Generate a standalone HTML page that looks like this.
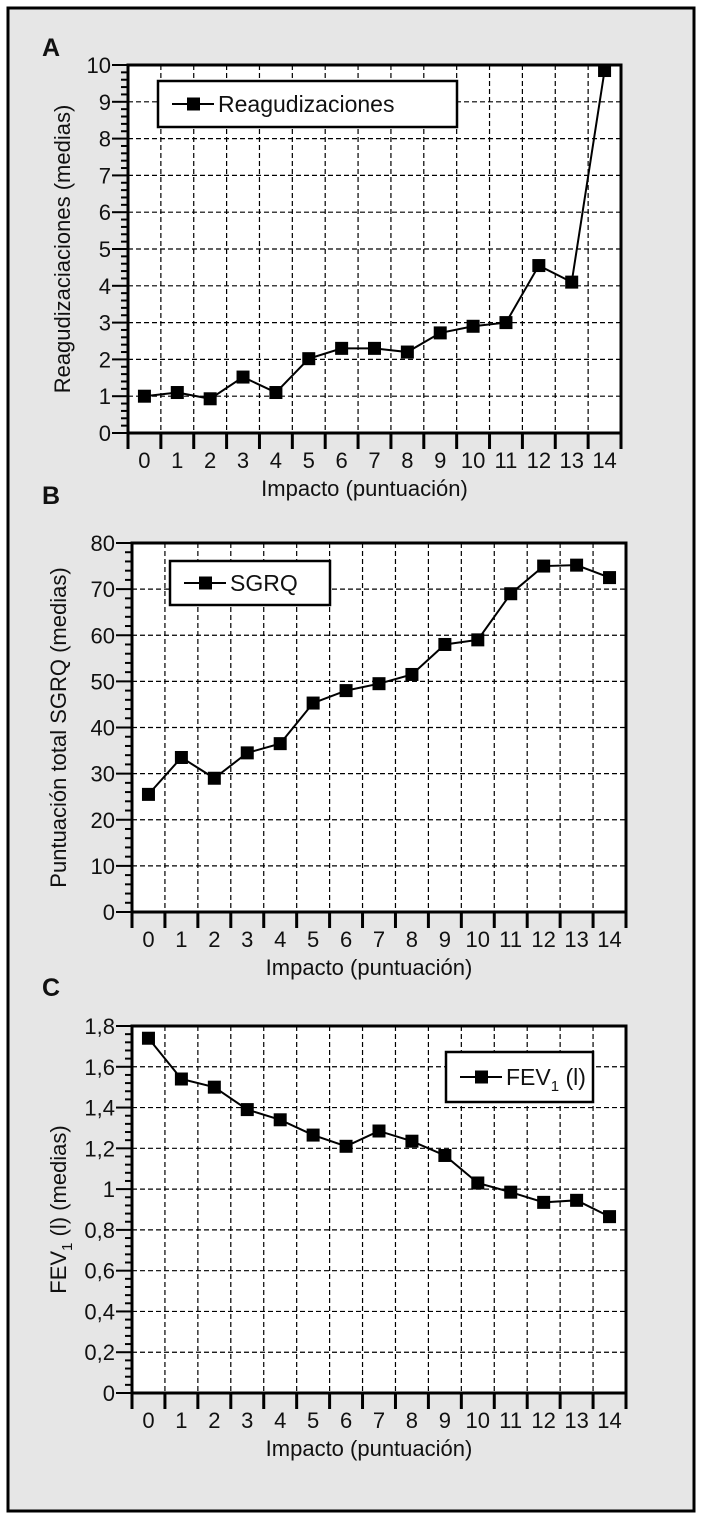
<!DOCTYPE html>
<html><head><meta charset="utf-8"><style>
html,body{margin:0;padding:0;background:#fff}
svg{display:block}
text{font-family:"Liberation Sans",sans-serif;fill:#111}
</style></head><body>
<svg id="fig" width="702" height="1518" viewBox="0 0 702 1518" xmlns="http://www.w3.org/2000/svg">
<rect x="8" y="8" width="686" height="1503" fill="#e6e6e6" stroke="#000" stroke-width="3"/>
</svg>
<script>
const categories = ["0","1","2","3","4","5","6","7","8","9","10","11","12","13","14"];
const reagValues = [1.0,1.1,0.93,1.52,1.1,2.02,2.3,2.3,2.2,2.72,2.9,3.0,4.55,4.1,9.85];
const sgrqValues = [25.5,33.5,29,34.5,36.5,45.3,48,49.5,51.5,58,59,69,75,75.2,72.5];
const fevValues = [1.74,1.54,1.50,1.39,1.34,1.265,1.21,1.285,1.235,1.165,1.03,0.985,0.935,0.945,0.865];
const reagTicks = ["0","1","2","3","4","5","6","7","8","9","10"];
const sgrqTicks = ["0","10","20","30","40","50","60","70","80"];
const fevTicks = ["0","0,2","0,4","0,6","0,8","1","1,2","1,4","1,6","1,8"];

const NS="http://www.w3.org/2000/svg";
const svg=document.getElementById('fig');
function mk(tag,attrs,parent,txt){const e=document.createElementNS(NS,tag);for(const k in attrs)e.setAttribute(k,attrs[k]);if(txt!==undefined)e.textContent=txt;(parent||svg).appendChild(e);return e;}

function panel(o){
  const g=mk('g',{});
  
  
  const L=o.left,R=o.right,T=o.top,B=o.bottom;
  const n=categories.length,bw=(R-L)/n;
  const xs=i=>L+bw*(i+0.5);
  const ys=v=>B-(v-o.min)/(o.max-o.min)*(B-T);
  const lt=mk('text',{x:o.letterX,y:o.letterY,'font-size':25,'font-weight':'bold'},g,o.letter);
  
  
  mk('rect',{x:L,y:T,width:R-L,height:B-T,fill:'#fff'},g);
  for(let i=1;i<n;i++){const l=mk('line',{x1:L+bw*i,x2:L+bw*i,y1:T,y2:B,stroke:'#000','stroke-width':1.2,'stroke-dasharray':'5,3'},g);
    }
  const nt=o.ticks.length;
  for(let j=0;j<nt;j++){
    const v=o.min+(o.max-o.min)*j/(nt-1),y=ys(v);
    if(j>0&&j<nt-1){const l=mk('line',{x1:L,x2:R,y1:y,y2:y,stroke:'#000','stroke-width':1.2,'stroke-dasharray':'5,3'},g);
      }
    mk('line',{x1:L-16,x2:L,y1:y,y2:y,stroke:'#000','stroke-width':2},g);
    const t=mk('text',{x:L-17,y:y+8,'font-size':22,'text-anchor':'end'},g,o.ticks[j]);
    
    if(j<nt-1){for(let m=1;m<5;m++){const ym=y-(m/5)*((B-T)/(nt-1));mk('line',{x1:L-7,x2:L,y1:ym,y2:ym,stroke:'#000','stroke-width':2},g);}}
  }
  mk('rect',{x:L,y:T,width:R-L,height:B-T,fill:'none',stroke:'#000','stroke-width':3},g);
  for(let i=0;i<=n;i++){mk('line',{x1:L+bw*i,x2:L+bw*i,y1:B,y2:B+16,stroke:'#000','stroke-width':3},g);}
  for(let i=0;i<n;i++){const t=mk('text',{x:xs(i),y:B+35,'font-size':22,'text-anchor':'middle'},g,categories[i]);
    }
  const xt=mk('text',{x:(L+R)/2-10,y:B+63,'font-size':22,'text-anchor':'middle'},g,'Impacto (puntuación)');
  
  const yt=mk('text',{x:0,y:0,'font-size':22,'text-anchor':'middle',transform:`translate(${o.ytX},${(T+B)/2}) rotate(-90)`},g);
  
  if(o.fev){mk('tspan',{},yt,'FEV');mk('tspan',{'font-size':15,dy:6},yt,'1');mk('tspan',{dy:-6},yt,' (l) (medias)');}
  else yt.textContent=o.ytitle;
  const pts=o.values.map((v,i)=>xs(i)+','+ys(v)).join(' ');
  const pl=mk('polyline',{points:pts,fill:'none',stroke:'#000','stroke-width':2},g);
  
  o.values.forEach((v,i)=>{const r=mk('rect',{x:xs(i)-6.5,y:ys(v)-6.5,width:13,height:13,fill:'#000'},g);
    });
  const lg=mk('g',{},g);
  
  const [lx,ly,lw,lh]=o.leg;
  mk('rect',{x:lx,y:ly,width:lw,height:lh,fill:'#fff',stroke:'#000','stroke-width':2.5},lg);
  const cy=ly+lh/2;
  mk('line',{x1:lx+14,x2:lx+56,y1:cy,y2:cy,stroke:'#000','stroke-width':2},lg);
  mk('rect',{x:lx+29,y:cy-6.5,width:13,height:13,fill:'#000'},lg);
  const lt2=mk('text',{x:lx+60,y:cy+8,'font-size':23},lg);
  if(o.fev){mk('tspan',{},lt2,'FEV');mk('tspan',{'font-size':15,dy:6},lt2,'1');mk('tspan',{dy:-6},lt2,' (l)');}
  else lt2.textContent=o.legText;
}
panel({id:'reagudizaciones',letter:'A',letterX:42,letterY:56,left:128,right:621,top:65,bottom:433,min:0,max:10,ticks:reagTicks,values:reagValues,ytX:70,ytitle:'Reagudizaciaciones (medias)',leg:[158,81,299,46],legText:'Reagudizaciones'});
panel({id:'sgrq',letter:'B',letterX:42,letterY:504,left:132,right:626,top:543,bottom:912,min:0,max:80,ticks:sgrqTicks,values:sgrqValues,ytX:66,ytitle:'Puntuación total SGRQ (medias)',leg:[170,561,160,44],legText:'SGRQ'});
panel({id:'fev1',letter:'C',letterX:42,letterY:996,left:132,right:626,top:1026,bottom:1393,min:0,max:1.8,ticks:fevTicks,values:fevValues,ytX:66,fev:true,leg:[446,1052,147,50]});
</script>
</body></html>
